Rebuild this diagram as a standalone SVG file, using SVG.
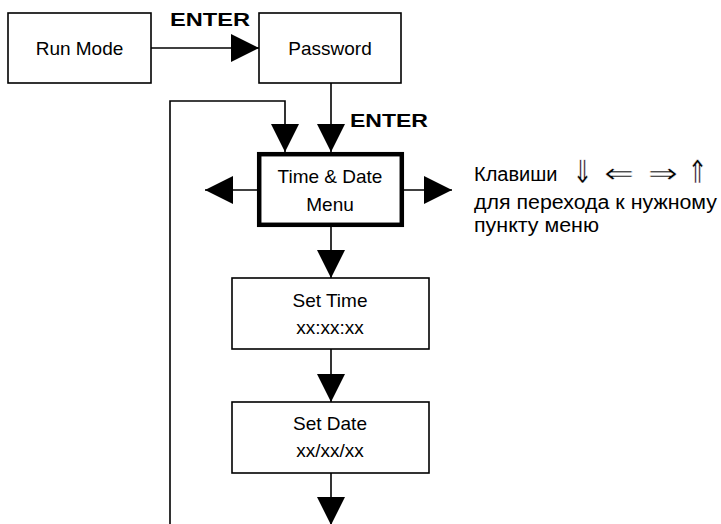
<svg xmlns="http://www.w3.org/2000/svg" width="721" height="524" viewBox="0 0 721 524">
<style>
.box{fill:#fff;stroke:#000;stroke-width:1.6}
.thick{fill:#fff;stroke:#000;stroke-width:4.5}
.t{font-family:"Liberation Sans",Arial,sans-serif;font-size:19px;fill:#000;text-anchor:middle}
.lbl{font-family:"Liberation Sans",Arial,sans-serif;font-size:19px;font-weight:bold;fill:#000}
.note{font-family:"Liberation Sans",Arial,sans-serif;font-size:20px;fill:#000}
.sym{font-family:"DejaVu Sans",sans-serif;font-size:28px;fill:#000;stroke:#fff;stroke-width:0.5}
.symv{font-family:"DejaVu Sans",sans-serif;font-size:32px;fill:#000;stroke:#fff;stroke-width:0.5}
.ln{fill:none;stroke:#000;stroke-width:1.6}
</style>
<defs>
<marker id="ah" markerUnits="userSpaceOnUse" markerWidth="28" markerHeight="28" viewBox="0 0 28 28" refX="28" refY="14" orient="auto">
<path d="M0,0 L28,14 L0,28 Z" fill="#000"/>
</marker>
</defs>
<rect width="721" height="524" fill="#fff"/>
<g id="connectors">
<line class="ln" x1="151" y1="48" x2="259" y2="48" marker-end="url(#ah)"/>
<line class="ln" x1="331" y1="83" x2="331" y2="152" marker-end="url(#ah)"/>
<polyline class="ln" points="170,524 170,101 285,101 285,152" marker-end="url(#ah)"/>
<line class="ln" x1="257" y1="190" x2="205" y2="190" marker-end="url(#ah)"/>
<line class="ln" x1="404" y1="190" x2="452" y2="190" marker-end="url(#ah)"/>
<line class="ln" x1="331" y1="227" x2="331" y2="278" marker-end="url(#ah)"/>
<line class="ln" x1="331" y1="349" x2="331" y2="402" marker-end="url(#ah)"/>
<line class="ln" x1="331" y1="473" x2="331" y2="525" marker-end="url(#ah)"/>
<text class="lbl" x="170" y="26" textLength="80" lengthAdjust="spacingAndGlyphs">ENTER</text>
<text class="lbl" x="350" y="127" textLength="78" lengthAdjust="spacingAndGlyphs">ENTER</text>
</g>
<g id="run-mode">
<rect class="box" x="8" y="13" width="143" height="70"/>
<text class="t" x="79.5" y="55">Run Mode</text>
</g>
<g id="password">
<rect class="box" x="259" y="13" width="142" height="70"/>
<text class="t" x="330" y="55">Password</text>
</g>
<g id="time-date-menu">
<rect class="thick" x="259.2" y="154.2" width="142.6" height="70.6"/>
<text class="t" x="330" y="183">Time &amp; Date</text>
<text class="t" x="330" y="211">Menu</text>
</g>
<g id="set-time">
<rect class="box" x="232" y="278" width="197" height="71"/>
<text class="t" x="330" y="307">Set Time</text>
<text class="t" x="330" y="334">xx:xx:xx</text>
</g>
<g id="set-date">
<rect class="box" x="232" y="402" width="197" height="71"/>
<text class="t" x="330" y="430">Set Date</text>
<text class="t" x="330" y="457">xx/xx/xx</text>
</g>
<g id="note">
<text class="note" x="474" y="181">Клавиши</text>
<text class="symv" x="572" y="183" textLength="21" lengthAdjust="spacingAndGlyphs">⇓</text>
<text class="sym" x="604" y="183" textLength="30" lengthAdjust="spacingAndGlyphs">⇐</text>
<text class="sym" x="648" y="183" textLength="30" lengthAdjust="spacingAndGlyphs">⇒</text>
<text class="symv" x="687" y="183" textLength="21" lengthAdjust="spacingAndGlyphs">⇑</text>
<text class="note" x="474" y="209" textLength="243" lengthAdjust="spacingAndGlyphs">для перехода к нужному</text>
<text class="note" x="474" y="232" textLength="125" lengthAdjust="spacingAndGlyphs">пункту меню</text>
</g>
</svg>
